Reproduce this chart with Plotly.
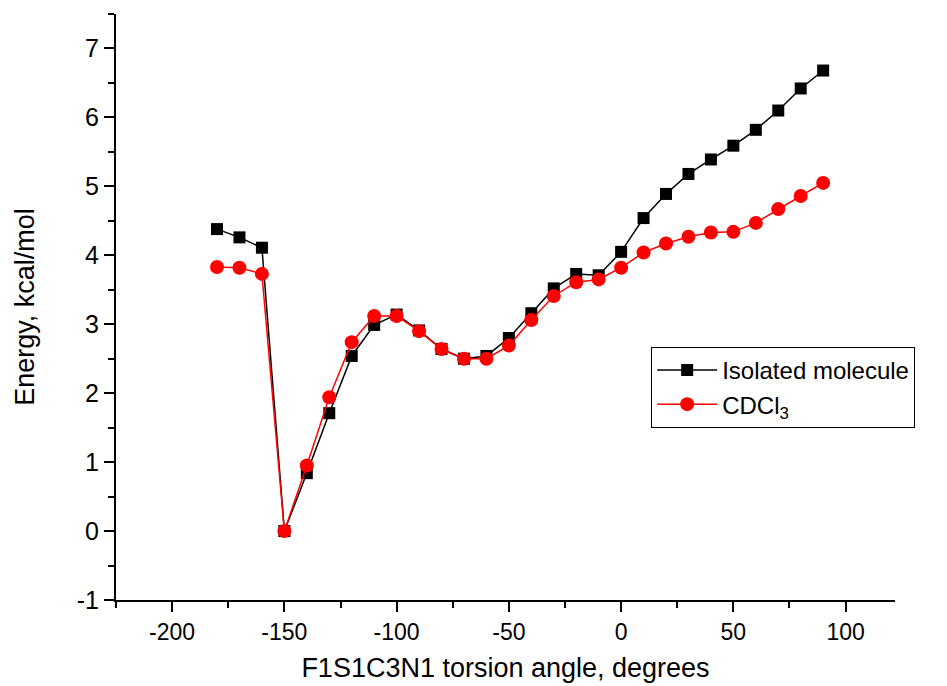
import plotly.graph_objects as go

angles = [-180, -170, -160, -150, -140, -130, -120, -110, -100, -90, -80, -70, -60, -50,
          -40, -30, -20, -10, 0, 10, 20, 30, 40, 50, 60, 70, 80, 90]
isolated = [4.38, 4.26, 4.11, 0.0, 0.84, 1.71, 2.54, 2.99, 3.14, 2.91, 2.64, 2.50, 2.54, 2.80,
            3.16, 3.52, 3.73, 3.71, 4.05, 4.54, 4.89, 5.18, 5.39, 5.59, 5.82, 6.10, 6.42, 6.68]
cdcl3 = [3.83, 3.82, 3.73, 0.0, 0.95, 1.94, 2.74, 3.12, 3.12, 2.90, 2.64, 2.50, 2.50, 2.69,
         3.06, 3.41, 3.61, 3.65, 3.82, 4.04, 4.17, 4.27, 4.33, 4.34, 4.47, 4.67, 4.86, 5.05]

x_tick_vals = [-200, -150, -100, -50, 0, 50, 100]
x_tick_text = ["-200", "-150", "-100", "-50", "0", "50", "100"]
y_tick_vals = [-1, 0, 1, 2, 3, 4, 5, 6, 7]
y_tick_text = ["-1", "0", "1", "2", "3", "4", "5", "6", "7"]

FONT = "Liberation Sans Narrow, Arial Narrow, Liberation Sans, Arial"

fig = go.Figure()
fig.add_trace(go.Scatter(x=angles, y=isolated, mode="lines+markers", name="Isolated molecule",
                         line=dict(color="black", width=1.5),
                         marker=dict(symbol="square", size=12, color="black")))
fig.add_trace(go.Scatter(x=angles, y=cdcl3, mode="lines+markers", name="CDCl<sub>3</sub>",
                         line=dict(color="red", width=1.5),
                         marker=dict(symbol="circle", size=14, color="red")))

# page body has an 8px default margin, so the figure is 939x678 and shifted by 8px
fig.update_layout(
    width=939, height=678,
    margin=dict(l=108, r=52, t=6, b=86),
    paper_bgcolor="white", plot_bgcolor="white",
    font=dict(family=FONT, color="black", size=21),
    showlegend=True,
    legend=dict(x=0.687, y=0.432, xanchor="left", yanchor="top",
                bordercolor="black", borderwidth=1, bgcolor="white",
                font=dict(family=FONT, size=24), tracegroupgap=0, itemwidth=60),
    xaxis=dict(range=[-225, 122], showgrid=False, zeroline=False, automargin=False,
               showline=True, linecolor="black", linewidth=2,
               ticks="outside", ticklen=10, tickwidth=2, tickcolor="black",
               tickmode="array", tickvals=x_tick_vals, ticktext=x_tick_text,
               minor=dict(ticks="outside", ticklen=6, tickwidth=2, tickcolor="black",
                          tick0=0, dtick=25),
               tickfont=dict(family=FONT, size=23),
               title=dict(text="F1S1C3N1 torsion angle, degrees", font=dict(family=FONT, size=27), standoff=15)),
    yaxis=dict(range=[-1, 7.5], showgrid=False, zeroline=False, automargin=False,
               showline=True, linecolor="black", linewidth=2,
               ticks="outside", ticklen=10, tickwidth=2, tickcolor="black",
               tickmode="array", tickvals=y_tick_vals, ticktext=y_tick_text,
               minor=dict(ticks="outside", ticklen=6, tickwidth=2, tickcolor="black",
                          tick0=0, dtick=0.5),
               tickfont=dict(family="Liberation Sans, Arial", size=25),
               title=dict(text="Energy, kcal/mol", font=dict(family=FONT, size=27), standoff=34)),
)

fig.write_html("out.html")
